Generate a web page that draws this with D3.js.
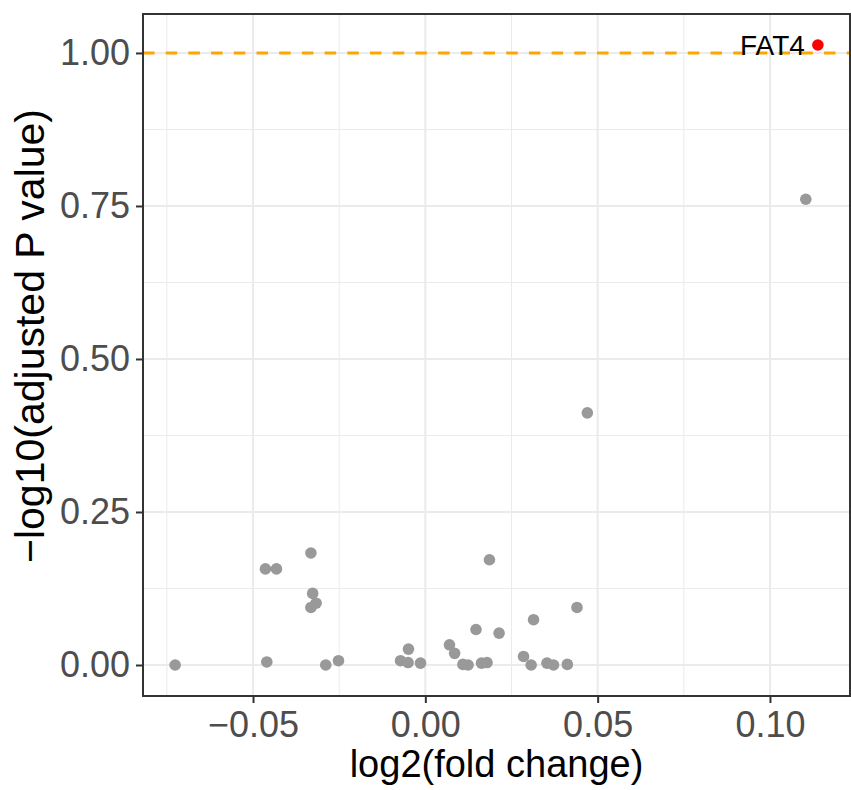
<!DOCTYPE html>
<html><head><meta charset="utf-8">
<script src="https://cdn.jsdelivr.net/npm/d3@7"></script>
<style>body{margin:0;background:#fff;} svg{display:block;font-family:"Liberation Sans",Arial,sans-serif;}</style>
</head><body>
<script>
const genes = ["g1","g2","g3","g4","g5","g6","g7","g8","g9","g10","g11","g12","g13","g14","g15","g16","g17","g18","g19","g20","g21","g22","g23","g24","g25","g26","g27","g28","g29","g30","g31","g32","FAT4"];
const log2fc = [-0.0726,-0.0464,-0.0432,-0.0460,-0.0332,-0.0327,-0.0317,-0.0332,-0.0289,-0.0252,-0.0072,-0.0049,-0.0050,-0.0014,0.0186,0.0440,0.0314,0.0147,0.0214,0.0070,0.0085,0.0285,0.0109,0.0124,0.0163,0.0179,0.0307,0.0353,0.0372,0.0412,0.0470,0.1104,0.1139];
const negLogP = [0.000,0.157,0.157,0.005,0.183,0.117,0.101,0.094,0.000,0.007,0.007,0.026,0.004,0.003,0.172,0.094,0.074,0.058,0.052,0.033,0.019,0.014,0.001,0.000,0.003,0.004,0.000,0.003,0.000,0.001,0.412,0.761,1.013];
const labelled = ["FAT4"];
const xTicks = [-0.05,0,0.05,0.10];
const xMinor = [-0.075,-0.025,0.025,0.075];
const yTicks = [0,0.25,0.5,0.75,1.0];
const yMinor = [0.125,0.375,0.625,0.875];
const threshold = 1.0;

const W=851,H=790;
const m={left:143,right:1,top:14,bottom:94};
const svg=d3.select("body").append("svg").attr("width",W).attr("height",H);
const pw=W-m.left-m.right, ph=H-m.top-m.bottom;
const xmin=d3.min(log2fc),xmax=d3.max(log2fc),ymin=0,ymax=d3.max(negLogP);
const xe=(xmax-xmin)*0.05, ye=(ymax-ymin)*0.05;
const x=d3.scaleLinear().domain([xmin-xe,xmax+xe]).range([m.left,m.left+pw]);
const y=d3.scaleLinear().domain([ymin-ye,ymax+ye]).range([m.top+ph,m.top]);
const g=svg.append("g");
const fmt=v=>d3.format(".2f")(v).replace("-","\u2212");
// grid
g.selectAll(".xmin").data(xMinor).join("line").attr("x1",d=>x(d)).attr("x2",d=>x(d)).attr("y1",m.top).attr("y2",m.top+ph).attr("stroke","#EBEBEB").attr("stroke-width",1);
g.selectAll(".ymin").data(yMinor).join("line").attr("y1",d=>y(d)).attr("y2",d=>y(d)).attr("x1",m.left).attr("x2",m.left+pw).attr("stroke","#EBEBEB").attr("stroke-width",1);
g.selectAll(".xmaj").data(xTicks).join("line").attr("x1",d=>x(d)).attr("x2",d=>x(d)).attr("y1",m.top).attr("y2",m.top+ph).attr("stroke","#EBEBEB").attr("stroke-width",2);
g.selectAll(".ymaj").data(yTicks).join("line").attr("y1",d=>y(d)).attr("y2",d=>y(d)).attr("x1",m.left).attr("x2",m.left+pw).attr("stroke","#EBEBEB").attr("stroke-width",2);
// threshold
g.append("line").attr("x1",m.left).attr("x2",m.left+pw).attr("y1",y(threshold)).attr("y2",y(threshold)).attr("stroke","#FFA500").attr("stroke-width",3).attr("stroke-dasharray","11.5,11.2");
// points
const data=genes.map((n,i)=>({n,x:log2fc[i],y:negLogP[i],hi:labelled.includes(n)}));
g.selectAll("circle").data(data).join("circle").attr("cx",d=>x(d.x)).attr("cy",d=>y(d.y)).attr("r",5.8).attr("fill",d=>d.hi?"#FF0000":"#999999");
g.selectAll(".lab").data(data.filter(d=>d.hi)).join("text").attr("x",d=>x(d.x)-13).attr("y",d=>y(d.y)+10).attr("text-anchor","end").attr("font-size",28).attr("fill","#000").text(d=>d.n);
// axes
const xa=svg.append("g").attr("transform",`translate(0,${m.top+ph})`).call(d3.axisBottom(x).tickValues(xTicks).tickFormat(fmt).tickSize(7).tickPadding(5));
const ya=svg.append("g").attr("transform",`translate(${m.left},0)`).call(d3.axisLeft(y).tickValues(yTicks).tickFormat(fmt).tickSize(7).tickPadding(6));
[xa,ya].forEach(a=>{a.select(".domain").remove();a.selectAll("line").attr("stroke","#333333").attr("stroke-width",2);a.selectAll("text").attr("font-size",36).attr("fill","#4D4D4D").attr("font-family","Liberation Sans, Arial, sans-serif");});
xa.selectAll("text").attr("y",40.5).attr("dy",0);
// border
svg.append("rect").attr("x",m.left).attr("y",m.top).attr("width",pw).attr("height",ph).attr("fill","none").attr("stroke","#333333").attr("stroke-width",2);
// titles
svg.append("text").attr("x",m.left+pw/2).attr("y",777).attr("text-anchor","middle").attr("font-size",38).attr("fill","#000").text("log2(fold change)");
svg.append("text").attr("transform",`translate(44,336) rotate(-90)`).attr("text-anchor","middle").attr("font-size",41).attr("fill","#000").text("\u2212log10(adjusted P value)");
</script>
</body></html>
